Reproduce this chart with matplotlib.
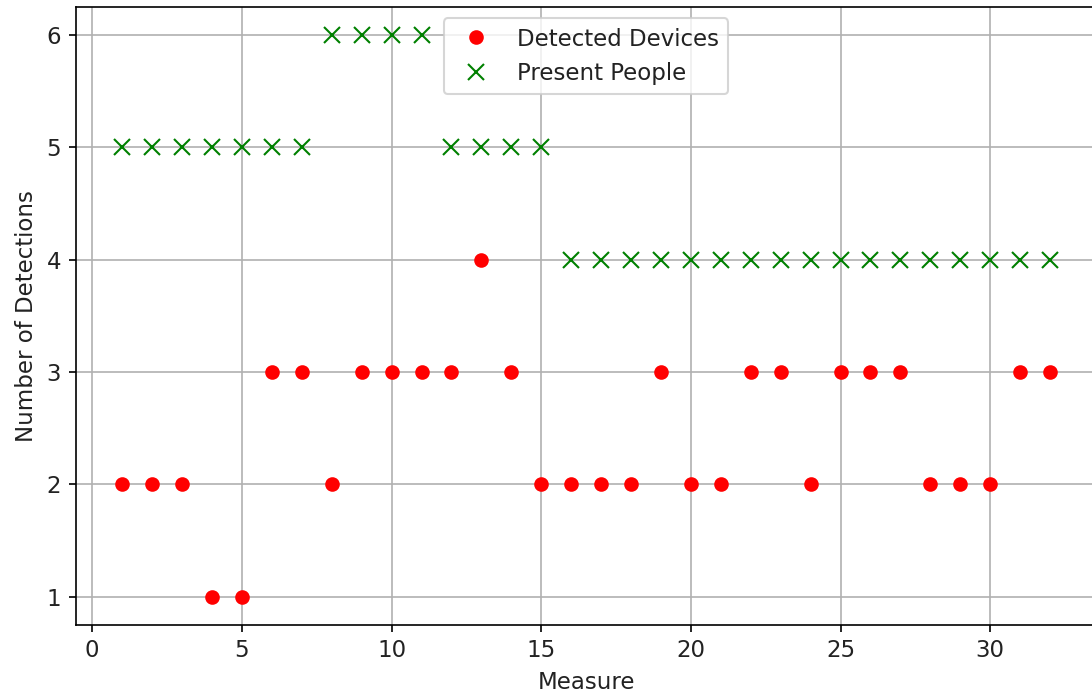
import matplotlib
matplotlib.use("Agg")
import matplotlib.pyplot as plt

plt.rcParams["font.size"] = 11
plt.rcParams["text.color"] = "#222222"
plt.rcParams["axes.labelcolor"] = "#222222"
plt.rcParams["xtick.labelcolor"] = "#222222"
plt.rcParams["ytick.labelcolor"] = "#222222"

# measures 1..32
measure = list(range(1, 33))
detected_devices = [2, 2, 2, 1, 1, 3, 3, 2, 3, 3, 3, 3, 4, 3, 2, 2,
                    2, 2, 3, 2, 2, 3, 3, 2, 3, 3, 3, 2, 2, 2, 3, 3]
present_people = [5, 5, 5, 5, 5, 5, 5, 6, 6, 6, 6, 5, 5, 5, 5, 4,
                  4, 4, 4, 4, 4, 4, 4, 4, 4, 4, 4, 4, 4, 4, 4, 4]

fig = plt.figure(figsize=(7.28, 4.64), dpi=150)
ax = fig.add_axes([0.0694, 0.1023, 0.9347, 0.8878])

ax.plot(measure, detected_devices, "ro", label="Detected Devices")
ax.plot(measure, present_people, "gx", markersize=8, label="Present People")

ax.set_xlabel("Measure")
ax.set_ylabel("Number of Detections")
ax.grid(True)
ax.legend(loc="upper center")

fig.savefig("out.png", dpi=150)
